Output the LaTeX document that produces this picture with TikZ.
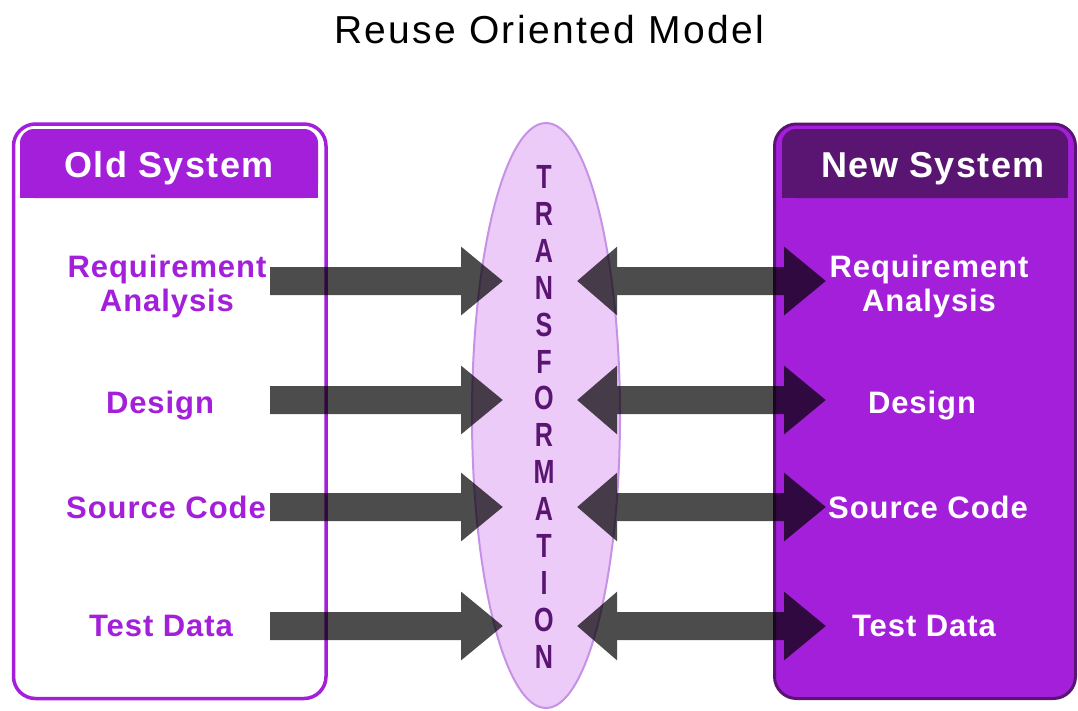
\documentclass[tikz,border=0pt]{standalone}
\usepackage{xcolor}
\usepackage{fontspec}
\setmainfont{Liberation Sans}
\newfontfamily\titlefont[LetterSpace=6]{Liberation Sans}
\newfontfamily\boxfont[LetterSpace=4]{Liberation Sans}
\newfontfamily\labelfont[LetterSpace=3]{Liberation Sans}
\newfontfamily\letterfont[FakeStretch=0.75]{Liberation Sans}
\usetikzlibrary{arrows.meta,shapes.geometric,positioning}

\definecolor{rompurple}{HTML}{A31FD9}
\definecolor{romdark}{HTML}{5A1573}
\definecolor{romlilac}{HTML}{ECCBF8}
\definecolor{romedge}{HTML}{C792E6}

\tikzset{
  syslabel/.style={font=\labelfont\bfseries\fontsize{31}{34}\selectfont, align=center, text=rompurple},
  newlabel/.style={syslabel, text=white},
  headtext/.style={font=\boxfont\bfseries\fontsize{36}{40}\selectfont, text=white},
  tlet/.style={font=\letterfont\bfseries\fontsize{33.5}{36}\selectfont, text=romdark, inner sep=0pt},
  fatarrow/.style={draw=black, line width=28pt, -{Triangle[length=42pt,width=66pt]}},
  twoarrow/.style={draw=black, line width=28pt, {Triangle[length=40pt,width=66pt]}-{Triangle[length=42pt,width=66pt]}}
}

\begin{document}
\begin{tikzpicture}[x=1pt,y=-1pt]
\useasboundingbox (0,0) rectangle (1078,710);

% Title.
\node[font=\titlefont\fontsize{39}{44}\selectfont, anchor=base] (title) at (549,43) {Reuse Oriented Model};

% Draw old system box.
\draw[rompurple, line width=3.5pt, fill=white, rounded corners=22pt] (13.5,124) rectangle (326,698.5);
\fill[rompurple, rounded corners=14pt] (20,198) rectangle (318,129);
\fill[rompurple] (20,198) rectangle (318,160);
\node[headtext, anchor=base] (oldhead) at (169,177) {Old System};

% Draw new system box.
\draw[romdark, line width=3pt, fill=rompurple, rounded corners=22pt] (774.5,124) rectangle (1075.5,698.5);
\fill[romdark, rounded corners=14pt] (782,198) rectangle (1068,129);
\fill[romdark] (782,198) rectangle (1068,160);
\node[headtext, anchor=base] (newhead) at (933,177) {New System};

% Transformation ellipse.
\node[ellipse, draw=romedge, fill=romlilac, line width=2pt, minimum width=148pt, minimum height=585pt, inner sep=0pt] (trans) at (546,415.5) {};
\foreach \c [count=\i] in {T,R,A,N,S,F,O,R,M,A,T,I,O,N}
\node[tlet] (let\i) at (544,{177+(\i-1)*36.9}) {\c};

% Phases.
\node[syslabel] (oreq) at (167,286) {Requirement\\Analysis};
\node[syslabel, anchor=base] (odes) at (160,413) {Design};
\node[syslabel, anchor=base] (osrc) at (166,518) {Source Code};
\node[syslabel, anchor=base] (otst) at (161,636) {Test Data};

\node[newlabel] (nreq) at (929,286) {Requirement\\Analysis};
\node[newlabel, anchor=base] (ndes) at (922,413) {Design};
\node[newlabel, anchor=base] (nsrc) at (928,518) {Source Code};
\node[newlabel, anchor=base] (ntst) at (924,636) {Test Data};

% Arrow ends.
\foreach \y [count=\i] in {281,400,507,626} {
\coordinate (ltail\i) at (270,\y);
\coordinate (ltip\i) at (503,\y);
\coordinate (rtip\i) at (577,\y);
\coordinate (rend\i) at (826,\y);
}

% Draw arrows.
\begin{scope}[transparency group, opacity=0.7]
\foreach \i in {1,...,4} {
\draw[fatarrow] (ltail\i) -- (ltip\i);
\draw[twoarrow] (rtip\i) -- (rend\i);
}
\end{scope}
\end{tikzpicture}
\end{document}
